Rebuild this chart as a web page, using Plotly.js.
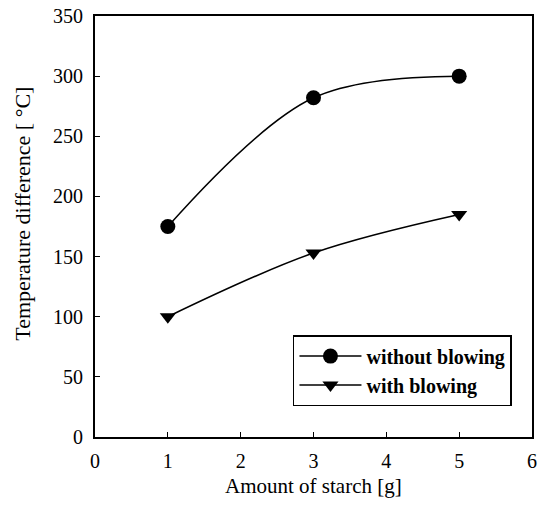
<!DOCTYPE html>
<html>
<head>
<meta charset="utf-8">
<script src="https://cdn.plot.ly/plotly-3.0.1.min.js"></script>
<style>html,body{margin:0;padding:0;background:#fff;}#chart{width:540px;height:506px;}</style>
</head>
<body>
<div id="chart"></div>
<script>
const starch = [1, 3, 5];
const withoutBlowing = [175, 282, 300];
const withBlowing = [100, 153, 185];
const seriesNames = ["without blowing", "with blowing"];
const xTitle = "Amount of starch [g]";
const yTitle = "Temperature difference [ °C]";

const font = {family: "Liberation Serif, Times New Roman, serif", color: "#000", size: 20};

const traces = [
  {x: starch, y: withoutBlowing, name: seriesNames[0], mode: "lines+markers",
   line: {shape: "spline", smoothing: 1, color: "#000", width: 1.5},
   marker: {symbol: "circle", size: 15, color: "#000"}},
  {x: starch, y: withBlowing, name: seriesNames[1], mode: "lines+markers",
   line: {shape: "spline", smoothing: 1, color: "#000", width: 1.5},
   marker: {symbol: "triangle-down", size: 14, color: "#000"}}
];

const layout = {
  width: 540, height: 506,
  margin: {l: 95, r: 8, t: 16, b: 69},
  paper_bgcolor: "#fff", plot_bgcolor: "#fff",
  font: font,
  showlegend: true,
  legend: {x: 0.453, y: 0.242, xanchor: "left", yanchor: "top",
           bordercolor: "#000", borderwidth: 1.5, bgcolor: "#fff",
           font: {family: font.family, size: 20, color: "#000", weight: "bold"},
           tracegroupgap: 0, itemwidth: 62},
  xaxis: {range: [0, 6], tickvals: [0,1,2,3,4,5,6], showgrid: false, zeroline: false,
          showline: true, linecolor: "#000", linewidth: 2, mirror: true,
          ticks: "inside", ticklen: 5, tickcolor: "#000", tickfont: {size: 20},
          ticklabelstandoff: 5},
  yaxis: {range: [0, 350], tickvals: [0,50,100,150,200,250,300,350], showgrid: false, zeroline: false,
          showline: true, linecolor: "#000", linewidth: 2, mirror: true,
          ticks: "inside", ticklen: 5, tickcolor: "#000", tickfont: {size: 20},
          ticklabelstandoff: 6},
  annotations: [
    {text: xTitle, xref: "paper", yref: "paper", x: 0.5, y: -0.116,
     xanchor: "center", yanchor: "middle", showarrow: false, font: {size: 21}},
    {text: yTitle, xref: "paper", yref: "paper", x: -0.165, y: 0.53, textangle: -90,
     xanchor: "center", yanchor: "middle", showarrow: false, font: {size: 22}}
  ]
};

Plotly.newPlot("chart", traces, layout, {displayModeBar: false, staticPlot: true});
</script>
</body>
</html>
